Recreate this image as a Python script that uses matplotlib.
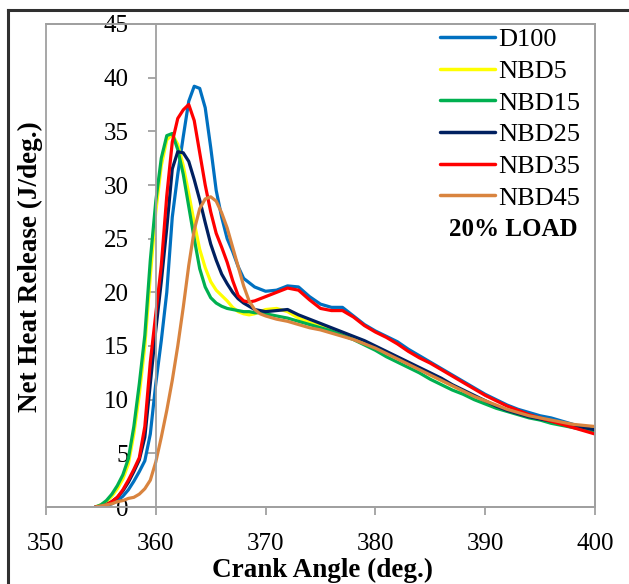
import matplotlib
matplotlib.use("Agg")
import matplotlib.pyplot as plt
from matplotlib.lines import Line2D

plt.rcParams['font.family'] = ['Liberation Serif', 'DejaVu Serif']

crank = [354.5, 355, 355.5, 356, 356.5, 357, 357.5, 358, 358.5, 359, 359.5,
         360, 360.5, 361, 361.5, 362, 362.5, 363, 363.5, 364, 364.5, 365, 365.5,
         366, 366.5, 367, 367.5, 368, 368.5, 369, 369.5, 370,
         371, 372, 373, 374, 375, 376, 377, 378, 379, 380,
         381, 382, 383, 384, 385, 386, 387, 388, 389, 390,
         391, 392, 393, 394, 395, 396, 397, 398, 399, 400]

d100 = [0, 0, 0.1, 0.3, 0.6, 1.0, 1.6, 2.4, 3.3, 4.3, 6.8,
        11.5, 15.5, 20.0, 27.0, 31.0, 34.5, 37.8, 39.2, 39.0, 37.2, 33.5, 29.5,
        27.0, 25.0, 23.8, 22.4, 21.3, 20.9, 20.5, 20.3, 20.1,
        20.2, 20.6, 20.5, 19.6, 18.9, 18.6, 18.6, 17.8, 17.0, 16.4,
        15.9, 15.4, 14.7, 14.1, 13.5, 12.9, 12.3, 11.7, 11.1, 10.5,
        10.0, 9.5, 9.1, 8.8, 8.5, 8.3, 8.0, 7.7, 7.4, 7.1]

nbd5 = [0, 0.2, 0.5, 1.0, 1.7, 2.6, 4.0, 6.8, 10.5, 15.0, 21.5,
        27.5, 31.8, 34.2, 34.7, 33.8, 31.8, 29.2, 26.5, 24.0, 22.3, 21.0, 20.2,
        19.7, 19.2, 18.6, 18.2, 18.0, 17.9, 18.0, 18.2, 18.4,
        18.5, 18.2, 17.6, 17.2, 16.9, 16.5, 16.2, 15.8, 15.4, 14.9,
        14.4, 13.9, 13.4, 12.9, 12.3, 11.8, 11.3, 10.8, 10.3, 9.9,
        9.4, 9.0, 8.7, 8.4, 8.2, 8.0, 7.8, 7.6, 7.5, 7.3]

nbd15 = [0, 0.2, 0.6, 1.2, 2.0, 3.0, 4.5, 7.5, 11.5, 16.0, 23.0,
         28.5, 32.5, 34.6, 34.8, 33.3, 31.0, 28.0, 25.0, 22.2, 20.5, 19.5, 19.0,
         18.7, 18.5, 18.4, 18.3, 18.2, 18.2, 18.1, 18.1, 18.0,
         17.8, 17.6, 17.3, 17.0, 16.7, 16.4, 16.0, 15.6, 15.1, 14.6,
         14.0, 13.5, 13.0, 12.5, 11.9, 11.4, 10.9, 10.5, 10.0, 9.6,
         9.2, 8.9, 8.6, 8.3, 8.1, 7.8, 7.6, 7.4, 7.2, 7.1]

nbd25 = [0, 0, 0.2, 0.5, 0.9, 1.5, 2.3, 3.3, 4.4, 6.5, 11.5,
         16.5, 21.0, 26.0, 31.5, 33.1, 33.0, 32.2, 30.5, 28.6, 26.5, 24.5, 23.0,
         21.7, 20.8, 20.0, 19.4, 19.0, 18.7, 18.4, 18.3, 18.2,
         18.3, 18.4, 17.9, 17.5, 17.1, 16.7, 16.3, 15.9, 15.5, 15.0,
         14.5, 14.0, 13.5, 13.0, 12.5, 12.0, 11.4, 10.9, 10.4, 9.9,
         9.4, 9.0, 8.7, 8.4, 8.2, 8.0, 7.8, 7.6, 7.4, 7.2]

nbd35 = [0, 0, 0.2, 0.5, 0.9, 1.6, 2.5, 3.5, 4.6, 7.5, 13.5,
         18.0, 22.5, 29.0, 34.0, 36.2, 37.0, 37.5, 36.0, 33.0, 30.0, 27.5, 25.5,
         24.2, 22.8, 21.1, 19.7, 19.2, 19.1, 19.2, 19.4, 19.6,
         20.0, 20.4, 20.2, 19.3, 18.5, 18.3, 18.3, 17.7, 16.9, 16.3,
         15.8, 15.2, 14.5, 13.9, 13.4, 12.8, 12.2, 11.6, 11.0, 10.4,
         9.9, 9.4, 9.0, 8.6, 8.3, 8.0, 7.7, 7.4, 7.1, 6.8]

nbd45 = [0, 0.1, 0.2, 0.3, 0.5, 0.6, 0.8, 0.9, 1.2, 1.7, 2.5,
         4.2, 6.5, 9.0, 11.8, 15.0, 18.6, 22.5, 25.8, 27.8, 28.7, 28.9, 28.5,
         27.4, 26.0, 24.2, 22.4, 20.6, 19.2, 18.4, 18.0, 17.8,
         17.5, 17.3, 17.0, 16.7, 16.5, 16.2, 15.9, 15.6, 15.2, 14.8,
         14.3, 13.8, 13.3, 12.8, 12.3, 11.8, 11.3, 10.8, 10.3, 9.9,
         9.5, 9.1, 8.8, 8.5, 8.3, 8.1, 7.9, 7.7, 7.6, 7.5]

series_names = ["D100", "NBD5", "NBD15", "NBD25", "NBD35", "NBD45"]
series_values = [d100, nbd5, nbd15, nbd25, nbd35, nbd45]
colors = ["#0070C0", "#FFFF00", "#00B050", "#002060", "#FF0000", "#D9843F"]

x_ticks = [350, 360, 370, 380, 390, 400]
y_ticks = [0, 5, 10, 15, 20, 25, 30, 35, 40, 45]

W, H = 629, 584
fig = plt.figure(figsize=(W / 100, H / 100), dpi=100)

# outer border
fig.add_artist(Line2D([8 / W, 8 / W], [1 - 10 / H, 0], color="#303030", lw=2.2,
                      transform=fig.transFigure))
fig.add_artist(Line2D([8 / W, 1], [1 - 10 / H, 1 - 10 / H], color="#303030", lw=2.2,
                      transform=fig.transFigure))

L, R, T, B = 46, 595, 24, 507
ax = fig.add_axes([L / W, 1 - B / H, (R - L) / W, (B - T) / H])

for name, vals, c in zip(series_names, series_values, colors):
    ax.plot(crank, vals, color=c, lw=2.3, label=name, solid_capstyle="round",
            solid_joinstyle="round")

ax.set_xlim(350, 400)
ax.set_ylim(0, 45)

gray = "#A0A0A0"
for s in ["top", "right", "bottom"]:
    ax.spines[s].set_color(gray)
    ax.spines[s].set_linewidth(1.3)
ax.spines["left"].set_position(("data", 360))
ax.spines["left"].set_color(gray)
ax.spines["left"].set_linewidth(1.3)
ax.patch.set_edgecolor(gray)
ax.patch.set_linewidth(1.3)

ax.set_xticks(x_ticks)
ax.set_yticks(y_ticks)
ax.set_xticklabels([str(v) for v in x_ticks])
ax.set_yticklabels([str(v) for v in y_ticks])
ax.tick_params(axis="x", direction="out", length=6, width=1.3, color=gray,
               labelsize=18, pad=13)
ax.tick_params(axis="y", direction="out", length=6, width=1.3, color=gray,
               labelsize=18, pad=13.5)

fig.text(30 / W, 1 - 267 / H, "Net Heat Release (J/deg.)", rotation=90,
         ha="center", va="center", fontsize=19.5, fontweight="bold")
fig.text(323 / W, 1 - 570 / H, "Crank Angle (deg.)", ha="center", va="center",
         fontsize=19.5, fontweight="bold")

fs = 19
leg = ax.legend(loc="upper left", bbox_to_anchor=(435 / W, 1 - 22.5 / H),
                bbox_transform=fig.transFigure, frameon=False, fontsize=fs,
                handlelength=2.08, handletextpad=0.11, labelspacing=0.31,
                borderpad=0.2, borderaxespad=0)
for ln in leg.get_lines():
    ln.set_linewidth(2.5)

fig.text(578 / W, 1 - 230 / H, "20% LOAD", ha="right", va="center",
         fontsize=18, fontweight="bold")

fig.savefig("out.png", dpi=100)
